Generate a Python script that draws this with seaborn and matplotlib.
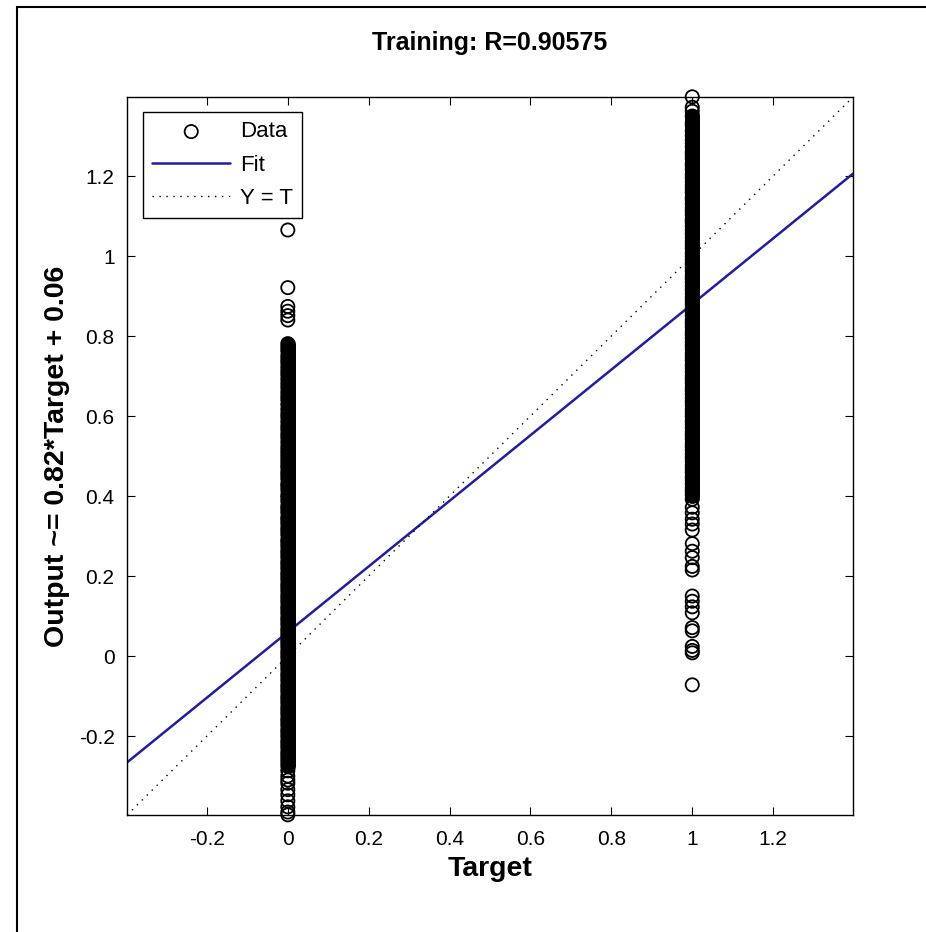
import numpy as np
import matplotlib
matplotlib.use("Agg")
import matplotlib.pyplot as plt
import pandas as pd
import seaborn as sns
from matplotlib.patches import Rectangle

# values (targets are 0 or 1)
out_target0 = [
    1.065, 0.921, 0.874, 0.862, 0.851, 0.840, 0.781, 0.772, 0.763, 0.751,
    0.742, 0.733, 0.722, 0.712, 0.703, 0.692, 0.681, 0.671, 0.660, 0.650,
    0.641, 0.629, 0.617, 0.606, 0.597, 0.586, 0.575, 0.566, 0.555, 0.546,
    0.535, 0.524, 0.515, 0.506, 0.497,
    0.488, 0.479, 0.471, 0.460, 0.452, 0.443, 0.431, 0.424, 0.415, 0.403,
    0.396, 0.387, 0.375, 0.368, 0.359, 0.347, 0.340, 0.331, 0.320, 0.312,
    0.303, 0.291, 0.284, 0.275, 0.264, 0.256, 0.247, 0.236, 0.228, 0.219,
    0.208, 0.200, 0.191, 0.180, 0.172, 0.163, 0.152, 0.144, 0.135, 0.124,
    0.116, 0.107, 0.096, 0.088, 0.079, 0.068, 0.060, 0.051, 0.040, 0.032,
    0.023, 0.012, 0.004, -0.005, -0.016, -0.024, -0.033, -0.044, -0.052, -0.061,
    -0.072, -0.080, -0.089, -0.100, -0.108, -0.117, -0.128, -0.136, -0.145, -0.156,
    -0.164, -0.173, -0.184, -0.192, -0.201, -0.212, -0.220, -0.229, -0.240, -0.248,
    -0.257, -0.266, -0.275, -0.287, -0.300, -0.310, -0.318, -0.334, -0.347, -0.362,
    -0.377, -0.390, -0.397,
]
out_target1 = [
    1.398, 1.372, 1.362, 1.350, 1.333, 1.326, 1.312, 1.301, 1.290,
    1.281, 1.272, 1.260, 1.253, 1.244, 1.232, 1.225, 1.216, 1.204, 1.196,
    1.187, 1.176, 1.168, 1.159, 1.147, 1.140, 1.131, 1.120, 1.112, 1.103,
    1.091, 1.084, 1.075, 1.064, 1.056, 1.047, 1.036, 1.028, 1.019, 1.008,
    1.000, 0.991, 0.980, 0.972, 0.963, 0.952, 0.944, 0.935, 0.924, 0.916,
    0.907, 0.896, 0.888, 0.879, 0.868, 0.860, 0.851, 0.840, 0.832, 0.823,
    0.812, 0.804, 0.795, 0.784, 0.776, 0.767, 0.756, 0.748, 0.739, 0.728,
    0.720, 0.711, 0.700, 0.692, 0.683, 0.672, 0.664, 0.655, 0.644, 0.636,
    0.627, 0.616, 0.608, 0.599, 0.588, 0.580, 0.571, 0.560, 0.552, 0.543,
    0.532, 0.524, 0.515, 0.504, 0.496, 0.487, 0.476, 0.468, 0.459, 0.448,
    0.440, 0.431, 0.420, 0.412, 0.403,
    0.392, 0.372, 0.358, 0.342, 0.330, 0.315, 0.281, 0.262, 0.246, 0.224,
    0.215, 0.150, 0.137, 0.123, 0.108, 0.071, 0.063, 0.024, 0.014, 0.008,
    -0.072,
]
# where the thousands of overlapping circles merge into a solid column
dense_target = [0, 1]
dense_low = [-0.275, 0.400]
dense_high = [0.780, 1.350]

fit_slope = 0.82
fit_intercept = 0.06
axis_lim = [-0.3975, 1.3975]
tick_vals = [-0.2, 0, 0.2, 0.4, 0.6, 0.8, 1, 1.2]
tick_labels = ["-0.2", "0", "0.2", "0.4", "0.6", "0.8", "1", "1.2"]

df = pd.DataFrame({
    "target": [0] * len(out_target0) + [1] * len(out_target1),
    "output": out_target0 + out_target1,
})
lines = pd.DataFrame({"x": axis_lim})
lines["fit"] = fit_slope * lines["x"] + fit_intercept

sns.set_style("ticks")
plt.rcParams["font.family"] = ["Liberation Sans", "DejaVu Sans"]
plt.rcParams["text.color"] = "black"
plt.rcParams["axes.labelcolor"] = "black"

fig = plt.figure(figsize=(9.26, 9.32), dpi=100)
ax = fig.add_axes([0.1372, 0.1255, 0.784, 0.7704])

msize = 90
medge = 1.3
sns.scatterplot(data=df, x="target", y="output", ax=ax, marker="o",
                s=msize, facecolor="none", edgecolor="black", linewidth=medge,
                clip_on=False, label="Data", zorder=3)
ax.vlines(dense_target, dense_low, dense_high, colors="black",
          linewidth=np.sqrt(msize) + medge, capstyle="round", zorder=3)
sns.lineplot(data=lines, x="x", y="fit", ax=ax, color="#1f1f9e",
             linewidth=1.8, label="Fit", zorder=2)
sns.lineplot(data=lines, x="x", y="x", ax=ax, color="black",
             linewidth=1.0, linestyle=(0, (1, 4)), label="Y = T", zorder=2)

ax.set_xlim(axis_lim)
ax.set_ylim(axis_lim)
ax.set_xticks(tick_vals)
ax.set_xticklabels(tick_labels)
ax.set_yticks(tick_vals)
ax.set_yticklabels(tick_labels)
ax.tick_params(direction="in", length=6, width=0.8, top=True, right=True,
               labelsize=15, colors="black")
ax.tick_params(axis="x", pad=11)
ax.tick_params(axis="y", pad=9)
for sp in ax.spines.values():
    sp.set_visible(True)
    sp.set_color("black")
    sp.set_linewidth(1.0)

ax.set_title("Training: R=0.90575", fontsize=18, fontweight="bold", pad=34,
             color="black")
ax.set_xlabel("Target", fontsize=20.5, fontweight="bold", labelpad=5)
ax.set_ylabel("Output ~= 0.82*Target + 0.06", fontsize=20.5,
              fontweight="bold", labelpad=6)

leg = ax.legend(loc="upper left", bbox_to_anchor=(0.022, 0.979),
                borderaxespad=0, fancybox=False, framealpha=1,
                edgecolor="black", fontsize=16, handlelength=3.5,
                labelspacing=0.55, scatterpoints=1, borderpad=0.42,
                handletextpad=0.45)
leg.get_frame().set_linewidth(1.0)
for t in leg.get_texts():
    t.set_color("black")

# outer frame of the exported figure
fig.patches.append(Rectangle((17 / 926, -0.05), 1.2, 1.05 - 7 / 932,
                             transform=fig.transFigure, fill=False,
                             edgecolor="black", linewidth=1.5))

fig.savefig("out.png", dpi=100)
